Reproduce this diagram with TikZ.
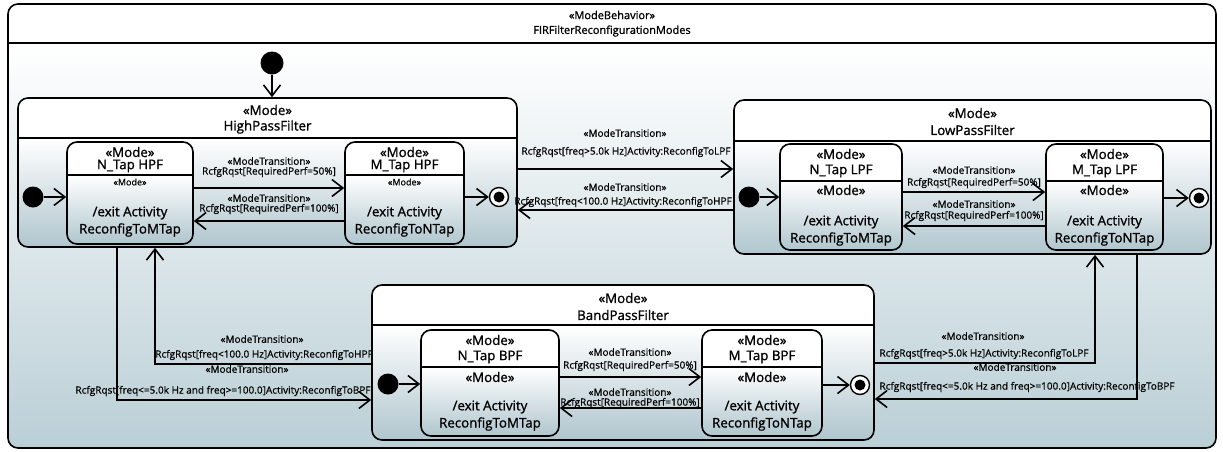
\documentclass[tikz,border=0pt]{standalone}
\usepackage{fontspec}
\setmainfont{Open Sans}
\newfontfamily\stfont{Open Sans}[FakeBold=1.2]
\newfontfamily\lbfont{Open Sans}[FakeBold=0.6]
\usetikzlibrary{arrows.meta,calc}
\definecolor{bgbot}{RGB}{186,207,214}
\definecolor{stbot}{RGB}{176,198,206}
\tikzset{
  frame/.style={draw=black, line width=1.6pt, rounded corners=10pt, inner sep=0pt},
  ttl/.style={font=\stfont\fontsize{11}{12}\selectfont, inner sep=0pt},
  stt/.style={font=\stfont\fontsize{13.3}{14}\selectfont, inner sep=0pt},
  sml/.style={font=\lbfont\fontsize{9}{10}\selectfont, inner sep=0pt},
  lbl/.style={font=\lbfont\fontsize{10}{11}\selectfont, inner sep=0pt},
  conn/.style={line width=1.6pt, -{Straight Barb[length=11pt,width=17pt,line width=1.6pt]}},
  initn/.style={circle, fill=black, inner sep=0pt, minimum size=21pt},
  finaln/.style={circle, draw=black, line width=1.4pt, fill=white, inner sep=0pt, minimum size=19pt,
     path picture={\fill[black] (path picture bounding box.center) circle (5.5pt);}},
}
% [body colour] name, x1, y1, x2, y2, divider y
\newcommand\mbstate[7][stbot]{%
  \fill[white, rounded corners=10pt] (#3,#4) rectangle (#5,#6);
  \begin{scope}
    \clip[rounded corners=10pt] (#3,#4) rectangle (#5,#6);
    \shade[top color=white, bottom color=#1] (#3,#7) rectangle (#5,#6);
  \end{scope}
  \node[frame, minimum width={#5-#3}, minimum height={#6-#4}] (#2) at ({(#3+#5)/2},{(#4+#6)/2}) {};
  \draw[line width=1.4pt] (#2.west |- 0,#7) -- (#2.east |- 0,#7);
}
\begin{document}
\begin{tikzpicture}[x=1pt,y=-1pt]
\useasboundingbox (0,0) rectangle (1223,451);
% outer frame
\mbstate[bgbot]{outer}{8}{4}{1216}{448}{43}
\node[ttl] (tA) at (612,15) {«ModeBehavior»};
\node[ttl] (tB) at (612,31) {FIRFilterReconfigurationModes};

% ---------- HighPassFilter ----------
\mbstate{hpf}{18}{98}{517}{247}{138}
\node[stt] (hA) at (267.5,110) {«Mode»};
\node[stt] (hB) at (267.5,127) {HighPassFilter};
\mbstate{nh}{67}{142}{193}{244}{175}
\node[stt] (nhA) at (130,152) {«Mode»};
\node[stt] (nhB) at (130,166) {N\_Tap HPF};
\node[sml] (nhC) at (130,182) {«Mode»};
\node[stt] (nhD) at (130,213) {/exit Activity};
\node[stt] (nhE) at (130,230) {ReconfigToMTap};
\mbstate{mh}{345}{142}{464}{244}{175}
\node[stt] (mhA) at (404.5,152) {«Mode»};
\node[stt] (mhB) at (404.5,166) {M\_Tap HPF};
\node[sml] (mhC) at (404.5,182) {«Mode»};
\node[stt] (mhD) at (404.5,213) {/exit Activity};
\node[stt] (mhE) at (404.5,230) {ReconfigToNTap};
\node[initn] (ih) at (33,197) {};
\node[finaln] (fh) at (499,197) {};
\draw[conn] (ih) -- (ih -| nh.west);
\draw[conn] (mh.east |- fh) -- (fh);
\draw[conn] (nh.east |- 0,188) -- (mh.west |- 0,188);
\draw[conn] (mh.west |- 0,221) -- (nh.east |- 0,221);
\node[lbl] (lh1) at (269,161) {«ModeTransition»};
\node[lbl] (lh2) at (269,172) {RcfgRqst[RequiredPerf=50\%]};
\node[lbl] (lh3) at (269,198) {«ModeTransition»};
\node[lbl] (lh4) at (269,209) {RcfgRqst[RequiredPerf=100\%]};

% ---------- LowPassFilter ----------
\mbstate{lpf}{734}{100}{1211}{254}{141}
\node[stt] (pA) at (972.5,113) {«Mode»};
\node[stt] (pB) at (972.5,130) {LowPassFilter};
\mbstate{nl}{780}{144}{902}{250}{181}
\node[stt] (nlA) at (841,154) {«Mode»};
\node[stt] (nlB) at (841,171) {N\_Tap LPF};
\node[stt] (nlC) at (841,190) {«Mode»};
\node[stt] (nlD) at (841,222) {/exit Activity};
\node[stt] (nlE) at (841,239) {ReconfigToMTap};
\mbstate{ml}{1046}{144}{1163}{250}{181}
\node[stt] (mlA) at (1104.5,154) {«Mode»};
\node[stt] (mlB) at (1104.5,171) {M\_Tap LPF};
\node[stt] (mlC) at (1104.5,190) {«Mode»};
\node[stt] (mlD) at (1104.5,222) {/exit Activity};
\node[stt] (mlE) at (1104.5,239) {ReconfigToNTap};
\node[initn] (il) at (749,197) {};
\node[finaln] (fl) at (1199,198) {};
\draw[conn] (il) -- (il -| nl.west);
\draw[conn] (ml.east |- fl) -- (fl);
\draw[conn] (nl.east |- 0,192) -- (ml.west |- 0,192);
\draw[conn] (ml.west |- 0,226) -- (nl.east |- 0,226);
\node[lbl] (ll1) at (974,170) {«ModeTransition»};
\node[lbl] (ll2) at (974,183) {RcfgRqst[RequiredPerf=50\%]};
\node[lbl] (ll3) at (974,204) {«ModeTransition»};
\node[lbl] (ll4) at (974,216) {RcfgRqst[RequiredPerf=100\%]};

% ---------- BandPassFilter ----------
\mbstate{bpf}{372}{285}{874}{440}{325}
\node[stt] (bA) at (623,298) {«Mode»};
\node[stt] (bB) at (623,315) {BandPassFilter};
\mbstate{nb}{421}{330}{559}{436}{367}
\node[stt] (nbA) at (490,340) {«Mode»};
\node[stt] (nbB) at (490,357) {N\_Tap BPF};
\node[stt] (nbC) at (490,377) {«Mode»};
\node[stt] (nbD) at (490,407) {/exit Activity};
\node[stt] (nbE) at (490,424) {ReconfigToMTap};
\mbstate{mb}{702}{330}{822}{436}{367}
\node[stt] (mbA) at (762,340) {«Mode»};
\node[stt] (mbB) at (762,357) {M\_Tap BPF};
\node[stt] (mbC) at (762,377) {«Mode»};
\node[stt] (mbD) at (762,407) {/exit Activity};
\node[stt] (mbE) at (762,424) {ReconfigToNTap};
\node[initn] (ib) at (388,384) {};
\node[finaln] (fb) at (860,385) {};
\draw[conn] (ib) -- (ib -| nb.west);
\draw[conn] (mb.east |- fb) -- (fb);
\draw[conn] (nb.east |- 0,377) -- (mb.west |- 0,377);
\draw[conn] (mb.west |- 0,408) -- (nb.east |- 0,408);
\node[lbl] (lb1) at (630,352) {«ModeTransition»};
\node[lbl] (lb2) at (630,366) {RcfgRqst[RequiredPerf=50\%]};
\node[lbl] (lb3) at (630,392) {«ModeTransition»};
\node[lbl] (lb4) at (630,403) {RcfgRqst[RequiredPerf=100\%]};

% ---------- top initial ----------
\node[initn, minimum size=23pt] (i0) at (272,63) {};
\draw[conn] (i0) -- (i0 |- hpf.north);

% ---------- top-level transitions ----------
\draw[conn] (hpf.east |- 0,169) -- (lpf.west |- 0,169);
\node[lbl] (t1a) at (625,133) {«ModeTransition»};
\node[lbl] (t1b) at (626,152) {RcfgRqst[freq>5.0k Hz]Activity:ReconfigToLPF};
\draw[conn] (lpf.west |- 0,210) -- (hpf.east |- 0,210);
\node[lbl] (t2a) at (625,187) {«ModeTransition»};
\node[lbl] (t2b) at (623,202) {RcfgRqst[freq<100.0 Hz]Activity:ReconfigToHPF};

\draw[conn] (hpf.south -| 117,0) |- (bpf.west |- 0,400);
\node[lbl] (t3a) at (247,369) {«ModeTransition»};
\node[lbl] (t3b) at (223,391) {RcfgRqst[freq<=5.0k Hz and freq>=100.0]Activity:ReconfigToBPF};
\draw[conn] (bpf.west |- 0,364) -| (hpf.south -| 155,0);
\node[lbl] (t4a) at (262,339) {«ModeTransition»};
\node[lbl] (t4b) at (264,355) {RcfgRqst[freq<100.0 Hz]Activity:ReconfigToHPF};

\draw[conn] (bpf.east |- 0,363) -| (lpf.south -| 1095,0);
\node[lbl] (t5a) at (983,336) {«ModeTransition»};
\node[lbl] (t5b) at (984,354) {RcfgRqst[freq>5.0k Hz]Activity:ReconfigToLPF};
\draw[conn] (lpf.south -| 1137,0) |- (bpf.east |- 0,399);
\node[lbl] (t6a) at (1015,367) {«ModeTransition»};
\node[lbl] (t6b) at (1027,387) {RcfgRqst[freq<=5.0k Hz and freq>=100.0]Activity:ReconfigToBPF};
\end{tikzpicture}
\end{document}
